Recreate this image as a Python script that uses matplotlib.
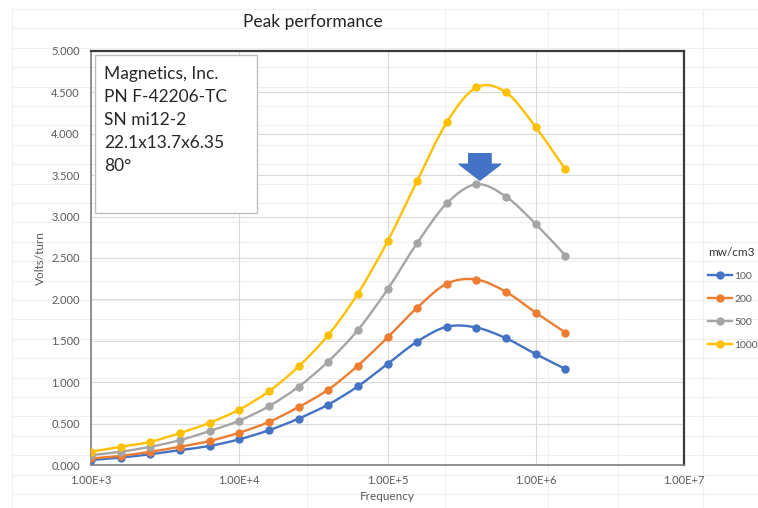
import matplotlib
matplotlib.use('Agg')
import matplotlib.pyplot as plt
import numpy as np
from matplotlib.path import Path
from matplotlib.patches import PathPatch, Rectangle, FancyArrowPatch
from matplotlib.lines import Line2D

plt.rcParams['font.family'] = ['Lato', 'DejaVu Sans']

# data
freq = [1000, 1585, 2512, 3981, 6310, 10000, 15849, 25119, 39811, 63096,
        100000, 158489, 251189, 398107, 630957, 1000000, 1584893]
v_100 = [0.06, 0.09, 0.13, 0.18, 0.23, 0.31, 0.42, 0.56, 0.73, 0.95,
         1.22, 1.49, 1.67, 1.66, 1.53, 1.34, 1.16]
v_200 = [0.08, 0.11, 0.16, 0.22, 0.29, 0.39, 0.52, 0.70, 0.91, 1.20,
         1.54, 1.90, 2.19, 2.24, 2.09, 1.84, 1.60]
v_500 = [0.12, 0.16, 0.22, 0.30, 0.41, 0.535, 0.71, 0.945, 1.25, 1.63,
         2.12, 2.68, 3.16, 3.39, 3.24, 2.91, 2.53]
v_1000 = [0.16, 0.22, 0.28, 0.386, 0.51, 0.67, 0.89, 1.19, 1.57, 2.07,
          2.70, 3.43, 4.14, 4.56, 4.50, 4.08, 3.57]
series_labels = ['100', '200', '500', '1000']
colors = ['#4472C4', '#ED7D31', '#A5A5A5', '#FFC000']
note_lines = ['Magnetics, Inc.', 'PN F-42206-TC', 'SN mi12-2', '22.1x13.7x6.35', '80°']


def smooth_path(x, y):
    # excel style smoothed line: bezier segments in (log x, y) space
    pts = np.column_stack([np.log10(x), y])
    n = len(pts)
    verts = [pts[0]]
    codes = [Path.MOVETO]
    for i in range(n - 1):
        p0 = pts[i - 1] if i > 0 else pts[i]
        p3 = pts[i + 2] if i + 2 < n else pts[i + 1]
        c1 = pts[i] + (pts[i + 1] - p0) / 6
        c2 = pts[i + 1] - (p3 - pts[i]) / 6
        verts += [c1, c2, pts[i + 1]]
        codes += [Path.CURVE4] * 3
    verts = np.array(verts)
    verts[:, 0] = 10 ** verts[:, 0]
    return Path(verts, codes)


W, H = 758, 508
fig = plt.figure(figsize=(W / 100, H / 100), dpi=100)

# faint spreadsheet cells behind the chart
for yy in np.arange(9, H, 19.4):
    fig.add_artist(Line2D([12 / W, 1], [1 - yy / H] * 2, color='#efefef', lw=0.8, zorder=0))
for xx in [12, 307, 445, 548, 618, 703]:
    fig.add_artist(Line2D([xx / W] * 2, [0, 1 - 9 / H], color='#f0f0f0', lw=0.8, zorder=0))

ax = fig.add_axes([91 / W, 43 / H, 593 / W, 414 / H])
ax.set_facecolor('none')
ax.set_xscale('log')
ax.set_xlim(1e3, 1e7)
ax.set_ylim(0, 5)

ax.set_yticks(np.arange(0, 5.01, 0.5))
ax.set_yticklabels(['%.3f' % v for v in np.arange(0, 5.01, 0.5)])
ax.set_xticks([1e3, 1e4, 1e5, 1e6, 1e7])
ax.set_xticklabels(['1.00E+3', '1.00E+4', '1.00E+5', '1.00E+6', '1.00E+7'])
ax.minorticks_off()
ax.tick_params(length=0, labelsize=8, labelcolor='#595959')
ax.tick_params(axis='x', pad=7)
ax.tick_params(axis='y', pad=8)
ax.grid(True, color='#d9d9d9', lw=0.8)
ax.set_axisbelow(True)

for side in ['top', 'right']:
    ax.spines[side].set_color('#3a3a3a')
    ax.spines[side].set_linewidth(1.6)
for side in ['left', 'bottom']:
    ax.spines[side].set_color('#7f7f7f')
    ax.spines[side].set_linewidth(1.2)

handles = []
for vals, col, lab in zip([v_100, v_200, v_500, v_1000], colors, series_labels):
    ax.add_patch(PathPatch(smooth_path(freq, vals), fill=False, edgecolor=col, lw=1.7, zorder=3))
    ax.plot(freq, vals, 'o', color=col, markersize=5, zorder=4)
    handles.append(Line2D([], [], color=col, lw=1.7, marker='o', markersize=5, label=lab))

# block arrow pointing at the 500 peak
ax.add_patch(FancyArrowPatch((4.2e5, 3.76), (4.2e5, 3.44),
                             arrowstyle='simple,head_length=0.5,head_width=1.3,tail_width=0.7',
                             mutation_scale=23, color='#4472C4', zorder=5,
                             shrinkA=0, shrinkB=0))

ax.set_xlabel('Frequency', fontsize=8.5, color='#595959', labelpad=4)
ax.set_ylabel('Volts/turn', fontsize=8.5, color='#595959', labelpad=4)

fig.text(313 / W, 1 - 22 / H, 'Peak performance', fontsize=12.5, ha='center', va='center', color='#222222')

# note box
fig.add_artist(Rectangle((95 / W, 1 - 213 / H), 162 / W, 158 / H, transform=fig.transFigure,
                         facecolor='white', edgecolor='#bfbfbf', lw=1, zorder=6))
for i, line in enumerate(note_lines):
    fig.text(104 / W, 1 - (74 + 23 * i) / H, line, fontsize=12.5, va='center', ha='left',
             color='#262626', zorder=7)

leg = fig.legend(handles=handles, loc='upper left', bbox_to_anchor=(703 / W, 1 - 242 / H),
                 frameon=False, fontsize=7.5, title='mw/cm3', title_fontsize=8.5,
                 handlelength=2.3, handletextpad=0.2, labelspacing=1.3, borderpad=0,
                 alignment='left')
for t in leg.get_texts():
    t.set_color('#595959')
leg.get_title().set_color('#333333')

fig.savefig('out.png', dpi=100)
